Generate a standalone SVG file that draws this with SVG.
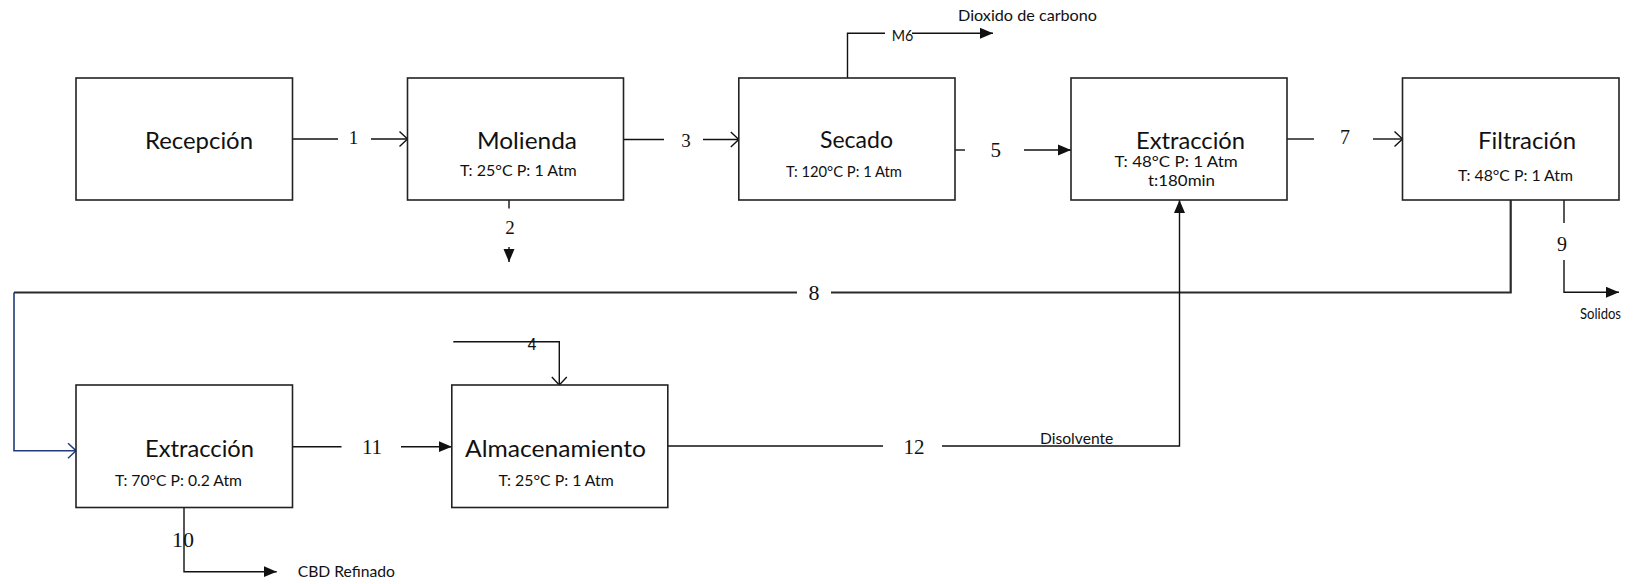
<svg xmlns="http://www.w3.org/2000/svg" width="1640" height="584" viewBox="0 0 1640 584">
<defs>
<style>
.box{fill:#fff;stroke:#222;stroke-width:1.6}
.ln{fill:none;stroke:#111;stroke-width:1.4}
.thick{fill:none;stroke:#2a2a2a;stroke-width:2.2}
.blue{fill:none;stroke:#203d7a;stroke-width:1.6}
.big{font-family:Lato,"Open Sans",sans-serif;font-size:23.5px;fill:#111}
.sub{font-family:Lato,"Open Sans",sans-serif;font-size:14.5px;fill:#111}
.sm{font-family:Lato,"Open Sans",sans-serif;font-size:15px;fill:#111}
.num{font-family:"Liberation Serif",serif;fill:#111;text-anchor:middle}
</style>
<marker id="fa" markerUnits="userSpaceOnUse" viewBox="0 0 13 12" markerWidth="13" markerHeight="12" refX="13" refY="6" orient="auto">
<path d="M0,0.5 L13,6 L0,11.5 z" fill="#111"/>
</marker>
<marker id="oa" markerUnits="userSpaceOnUse" viewBox="0 0 10 17" markerWidth="10" markerHeight="17" refX="9" refY="8.5" orient="auto">
<path d="M1,1 L9,8.5 L1,16" fill="none" stroke="#111" stroke-width="1.4"/>
</marker>
<marker id="ob" markerUnits="userSpaceOnUse" viewBox="0 0 10 17" markerWidth="10" markerHeight="17" refX="9" refY="8.5" orient="auto">
<path d="M1,1 L9,8.5 L1,16" fill="none" stroke="#203d7a" stroke-width="1.5"/>
</marker>
</defs>
<rect width="1640" height="584" fill="#fff"/>

<g id="connectors">
<line class="ln" x1="292.5" y1="139" x2="338" y2="139"/>
<line class="ln" x1="371" y1="139" x2="407.5" y2="139" marker-end="url(#oa)"/>
<text class="num" x="353.5" y="144" font-size="19">1</text>

<line class="ln" x1="623.5" y1="139.5" x2="664" y2="139.5"/>
<line class="ln" x1="703" y1="139.5" x2="738.8" y2="139.5" marker-end="url(#oa)"/>
<text class="num" x="686" y="146.7" font-size="19">3</text>

<line class="ln" x1="509" y1="200" x2="509" y2="208.5"/>
<line class="ln" x1="509" y1="247" x2="509" y2="262" marker-end="url(#fa)"/>
<text class="num" x="510" y="233.5" font-size="19">2</text>

<polyline class="ln" points="847.5,78 847.5,33.3 885,33.3"/>
<line class="ln" x1="912" y1="33.3" x2="993" y2="33.3" marker-end="url(#fa)"/>
<text class="sm" x="891.7" y="40.5" textLength="21.6" lengthAdjust="spacingAndGlyphs">M6</text>
<text class="sm" x="958" y="20.7" textLength="139" lengthAdjust="spacingAndGlyphs">Dioxido de carbono</text>

<line class="ln" x1="955" y1="150" x2="965" y2="150"/>
<line class="ln" x1="1024" y1="150" x2="1071" y2="150" marker-end="url(#fa)"/>
<text class="num" x="995.7" y="157.3" font-size="21">5</text>

<line class="ln" x1="1287" y1="139" x2="1314" y2="139"/>
<line class="ln" x1="1373" y1="139" x2="1402.5" y2="139" marker-end="url(#oa)"/>
<text class="num" x="1345" y="143.5" font-size="20">7</text>

<polyline class="thick" points="1510.7,200 1510.7,292.5 831,292.5"/>
<line class="thick" x1="797" y1="292.5" x2="14" y2="292.5"/>
<polyline class="blue" points="14,292.5 14,450.7 76,450.7" marker-end="url(#ob)"/>
<text class="num" x="814" y="300" font-size="22">8</text>

<line class="ln" x1="1564" y1="200" x2="1564" y2="223"/>
<polyline class="ln" points="1564,260 1564,292.3 1619,292.3" marker-end="url(#fa)"/>
<text class="num" x="1562" y="250.7" font-size="20">9</text>
<text class="sm" x="1580" y="319" textLength="41" lengthAdjust="spacingAndGlyphs">Solidos</text>

<polyline class="ln" points="453.3,341.7 559.3,341.7 559.3,385" marker-end="url(#oa)"/>
<text x="532" y="349.5" font-family="Liberation Sans,sans-serif" font-size="16" fill="#111" text-anchor="middle">4</text>

<polyline class="ln" points="184,507.5 184,571.7 276.7,571.7" marker-end="url(#fa)"/>
<text class="num" x="183" y="546.7" font-size="22">10</text>
<text class="sm" x="297.7" y="576.7" textLength="97.3" lengthAdjust="spacingAndGlyphs">CBD Refinado</text>

<line class="ln" x1="292.5" y1="446.7" x2="341.5" y2="446.7"/>
<line class="ln" x1="401" y1="446.7" x2="451.8" y2="446.7" marker-end="url(#fa)"/>
<text class="num" x="372" y="454.3" font-size="21">11</text>

<line class="ln" x1="668" y1="446" x2="883" y2="446"/>
<polyline class="ln" points="942,446 1179.5,446 1179.5,200" marker-end="url(#fa)"/>
<text class="num" x="914" y="454.3" font-size="21">12</text>
<text class="sm" x="1040" y="444" textLength="73.3" lengthAdjust="spacingAndGlyphs">Disolvente</text>
</g>

<g id="recepcion">
<rect class="box" x="76" y="78" width="216.5" height="122"/>
<text class="big" x="145" y="149.3" textLength="108" lengthAdjust="spacingAndGlyphs">Recepción</text>
</g>

<g id="molienda">
<rect class="box" x="407.5" y="78" width="216" height="122"/>
<text class="big" x="477" y="149.3" textLength="100" lengthAdjust="spacingAndGlyphs">Molienda</text>
<text class="sub" x="460" y="176" textLength="116.6" lengthAdjust="spacingAndGlyphs">T: 25°C P: 1 Atm</text>
</g>

<g id="secado">
<rect class="box" x="738.8" y="78" width="216.2" height="122"/>
<text class="big" x="820" y="148" textLength="73" lengthAdjust="spacingAndGlyphs">Secado</text>
<text class="sub" x="786" y="176.7" textLength="116" lengthAdjust="spacingAndGlyphs">T: 120°C P: 1 Atm</text>
</g>

<g id="extraccion1">
<rect class="box" x="1071" y="78" width="216" height="122"/>
<text class="big" x="1136" y="149" textLength="109" lengthAdjust="spacingAndGlyphs">Extracción</text>
<text class="sub" x="1114.5" y="167" font-size="13.5" textLength="123.3" lengthAdjust="spacingAndGlyphs">T: 48°C P: 1 Atm</text>
<text class="sub" x="1148" y="186" textLength="67" lengthAdjust="spacingAndGlyphs">t:180min</text>
</g>

<g id="filtracion">
<rect class="box" x="1402.5" y="78" width="216.5" height="122"/>
<text class="big" x="1478" y="149.3" textLength="98" lengthAdjust="spacingAndGlyphs">Filtración</text>
<text class="sub" x="1458" y="180.7" textLength="115" lengthAdjust="spacingAndGlyphs">T: 48°C P: 1 Atm</text>
</g>

<g id="extraccion2">
<rect class="box" x="76" y="385" width="216.5" height="122.5"/>
<text class="big" x="145" y="456.7" textLength="109" lengthAdjust="spacingAndGlyphs">Extracción</text>
<text class="sub" x="115" y="486" textLength="127" lengthAdjust="spacingAndGlyphs">T: 70°C P: 0.2 Atm</text>
</g>

<g id="almacenamiento">
<rect class="box" x="451.8" y="385" width="216" height="122.5"/>
<text class="big" x="465" y="456.7" textLength="181" lengthAdjust="spacingAndGlyphs">Almacenamiento</text>
<text class="sub" x="498.6" y="486" textLength="115.2" lengthAdjust="spacingAndGlyphs">T: 25°C P: 1 Atm</text>
</g>
</svg>
